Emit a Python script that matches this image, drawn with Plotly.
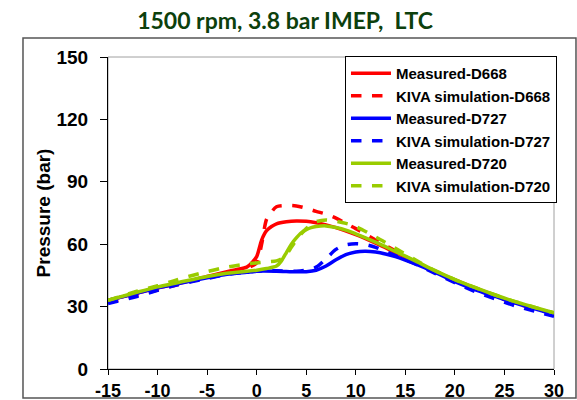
import plotly.graph_objects as go

# ---- data (crank angle in degrees, pressure in bar) ----
x_meas_d668 = [-15, -12, -10, -8, -5, -3, -2, -1, -0.5, 0, 0.5, 1, 1.5, 2, 3, 4, 5, 6, 7, 8, 10, 12, 14, 16, 18, 20, 22, 24, 26, 28, 30]
y_meas_d668 = [33, 36.5, 39, 41, 44.5, 46.8, 47.8, 49, 51, 54, 62, 66.5, 68.5, 69.8, 70.8, 71.2, 71, 70.3, 69.3, 68, 64.6, 60.5, 56, 51.5, 47, 42.8, 39, 35.5, 32, 29.4, 26.8]

x_sim_d668 = [-15, -12, -10, -8, -5, -3, -1, 0, 0.5, 1, 1.5, 2, 3, 4, 5, 6, 7, 8, 9, 10, 12, 14, 16, 18, 20, 22, 24, 26, 28, 30]
y_sim_d668 = [32, 35.5, 38, 40.5, 44, 46.5, 48.5, 51, 60, 72, 75.5, 78, 78.6, 78.4, 77.3, 75.8, 74.5, 72.5, 70, 67.5, 62, 56.8, 51.5, 46.8, 42.5, 38.5, 35, 31.8, 29, 26.5]

x_meas_d727 = [-15, -12, -10, -8, -5, -3, -1, 0, 2, 4, 5, 6, 7, 8, 9, 10, 11, 12, 13, 14, 16, 18, 20, 22, 24, 26, 28, 30]
y_meas_d727 = [33, 36.5, 39, 41, 43.8, 45.5, 46.5, 47, 47, 46.7, 46.8, 47.5, 49.5, 52.5, 55, 56.3, 56.6, 56.2, 55.3, 54, 50.5, 46.5, 42, 38.2, 35, 31.8, 29, 26]

x_sim_d727 = [-15, -12, -10, -8, -5, -3, -1, 0, 2, 4, 5, 6, 7, 8, 9, 10, 11, 12, 13, 14, 16, 18, 20, 22, 24, 26, 28, 30]
y_sim_d727 = [31.5, 35, 37.8, 40.5, 43.5, 45.5, 46.5, 47, 47.2, 47, 47.5, 49, 53, 57.5, 59.7, 60.2, 59.8, 58.5, 56.5, 54.5, 50.5, 46, 41.5, 37.3, 33.8, 30.5, 27.8, 25.3]

x_meas_d720 = [-15, -12, -10, -8, -5, -3, 0, 1, 2, 2.5, 3, 3.5, 4, 4.5, 5, 5.5, 6, 7, 8, 9, 10, 12, 14, 16, 18, 20, 22, 24, 26, 28, 30]
y_meas_d720 = [33, 37, 39.5, 41.5, 44.5, 46, 47.5, 48.3, 49.5, 52, 56, 60, 63, 65.5, 67, 68, 68.5, 68.8, 68, 66.8, 65, 61, 56.5, 52, 47.3, 43, 39.2, 35.7, 32.5, 29.7, 27]

x_sim_d720 = [-15, -12, -10, -8, -5, -3, -1, 1, 2, 2.5, 3, 3.5, 4, 4.5, 5, 5.5, 6, 7, 8, 9, 10, 12, 14, 16, 18, 20, 22, 24, 26, 28, 30]
y_sim_d720 = [33, 37.5, 40, 43, 46.8, 49, 50.5, 51.5, 52, 53, 55, 58.5, 62, 65, 67.5, 69.5, 70.8, 71.6, 71, 70, 68.5, 63.5, 58, 52.5, 47.3, 43, 39.2, 35.7, 32.5, 29.7, 27]

x_ticks = [-15, -10, -5, 0, 5, 10, 15, 20, 25, 30]
y_ticks = [0, 30, 60, 90, 120, 150]

RED = "#ff0000"
BLUE = "#0000ff"
GREEN = "#99cc00"

series = [
    ("Measured-D668", x_meas_d668, y_meas_d668, RED, "solid"),
    ("KIVA simulation-D668", x_sim_d668, y_sim_d668, RED, "dash"),
    ("Measured-D727", x_meas_d727, y_meas_d727, BLUE, "solid"),
    ("KIVA simulation-D727", x_sim_d727, y_sim_d727, BLUE, "dash"),
    ("Measured-D720", x_meas_d720, y_meas_d720, GREEN, "solid"),
    ("KIVA simulation-D720", x_sim_d720, y_sim_d720, GREEN, "dash"),
]

fig = go.Figure()
for name, xs, ys, color, dash in series:
    fig.add_trace(go.Scatter(
        x=xs, y=ys, name=name, mode="lines",
        line=dict(color=color, width=3.5, dash=dash, shape="spline", smoothing=0.8),
    ))

FONT = "Liberation Sans, Arial, sans-serif"

fig.update_layout(
    width=577, height=400,
    margin=dict(l=108, r=23, t=57, b=31, autoexpand=False),
    paper_bgcolor="white", plot_bgcolor="white",
    showlegend=True,
    title=dict(
        text="<b>1500 rpm, 3.8 bar IMEP,  LTC</b>",
        x=0.494, xanchor="center", y=0.947, yanchor="middle",
        font=dict(family="Lato, Open Sans, sans-serif", size=23, color="#0c400c"),
    ),
    legend=dict(
        x=1.0067, xanchor="right", y=1.003, yanchor="top",
        bgcolor="white", bordercolor="black", borderwidth=1,
        font=dict(family=FONT, size=15, color="black", weight="bold"),
        tracegroupgap=0, itemwidth=40,
    ),
    xaxis=dict(
        range=[-15, 30], tickvals=x_ticks, ticktext=[str(v) for v in x_ticks],
        showgrid=False, zeroline=False, showline=True, linecolor="black", linewidth=1.2,
        ticks="outside", ticklen=5, tickcolor="black", ticklabelstandoff=0,
        automargin=False,
        tickfont=dict(family=FONT, size=18, color="black", weight="bold"),
    ),
    yaxis=dict(
        range=[0, 150], tickvals=y_ticks, ticktext=[str(v) for v in y_ticks],
        showgrid=False, zeroline=False, showline=True, linecolor="black", linewidth=1.2,
        ticks="outside", ticklen=7, tickcolor="black", ticklabelstandoff=8,
        automargin=False,
        tickfont=dict(family=FONT, size=19, color="black", weight="bold"),
        title=dict(text="Pressure (bar)", standoff=0,
                   font=dict(family=FONT, size=19, color="black", weight="bold")),
    ),
    shapes=[
        # gray plot-area border (top/right)
        dict(type="rect", xref="paper", yref="paper", x0=0, x1=1, y0=0, y1=1,
             line=dict(color="#a0a0a0", width=1), layer="below"),
        # outer chart frame
        dict(type="rect", xref="paper", yref="paper", x0=-0.1906, x1=1.0493, y0=-0.0929, y1=1.0609,
             line=dict(color="#555555", width=1.5), layer="above"),
    ],
)

fig.write_html("out.html")
